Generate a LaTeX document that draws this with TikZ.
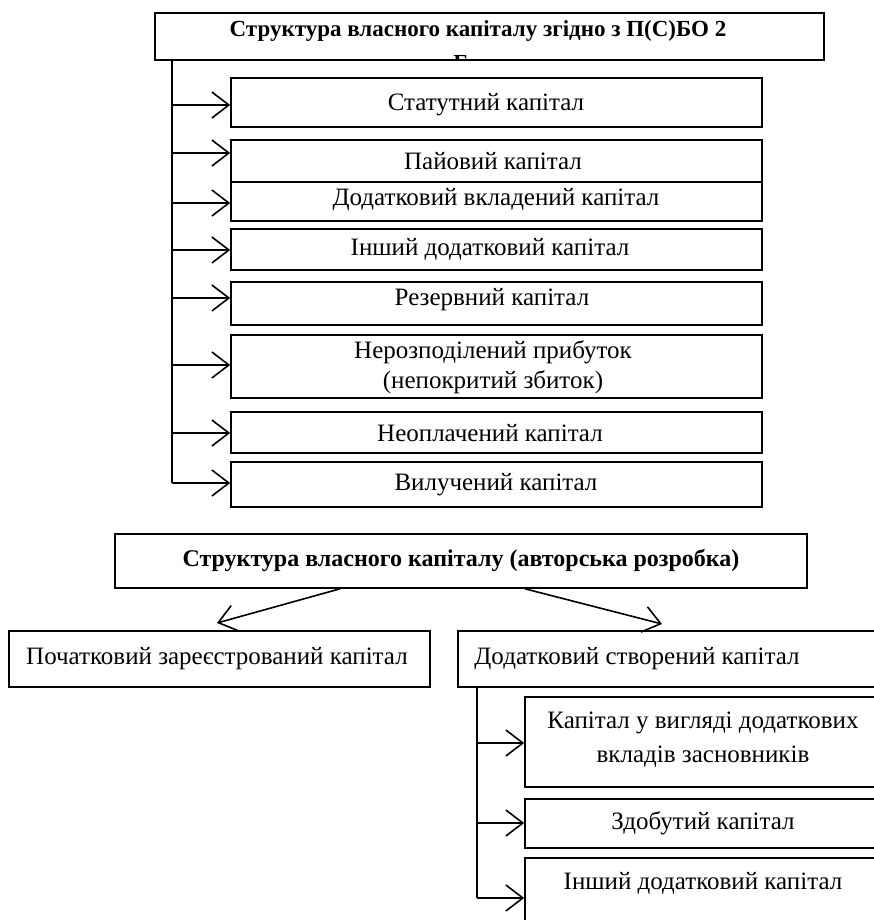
\documentclass[tikz,border=0pt]{standalone}
\usepackage{fontspec}
\setmainfont{Liberation Serif}
\usetikzlibrary{arrows.meta}
\begin{document}
\begin{tikzpicture}[x=1pt,y=-1pt,
  box/.style={draw,line width=1.6pt,inner sep=0pt,align=center},
  txt/.style={inner sep=0pt,align=center,font=\fontsize{25}{30}\selectfont},
  btxt/.style={inner sep=0pt,align=center,font=\fontsize{23}{26}\selectfont\bfseries},
  ln/.style={line width=1.6pt},
  arr/.style={line width=1.6pt,-{Straight Barb[length=17pt,width=26pt,line width=1.6pt]}}]
\clip (0,0) rectangle (874,920);
\fill[white] (0,0) rectangle (874,920);
% ---------- top part ----------
\node[box,minimum width=669pt,minimum height=47pt] (t1) at (489.5,36.5) {};
\node[btxt] (t1t) at (478,31) {Структура власного капіталу згідно з П(С)БО 2};
\begin{scope}
  \clip (155,13) rectangle (824,60);
  \node[btxt,anchor=base] (t1b) at (461,71) {Б};
\end{scope}
\node[box,minimum width=531pt,minimum height=49pt] (c1) at (496.5,102.5) {};
\node[box,minimum width=531pt,minimum height=42pt] (c2) at (496.5,161) {};
\node[box,minimum width=531pt,minimum height=39pt] (c3) at (496.5,201.5) {};
\node[box,minimum width=531pt,minimum height=41pt] (c4) at (496.5,249.5) {};
\node[box,minimum width=531pt,minimum height=43pt] (c5) at (496.5,303.5) {};
\node[box,minimum width=531pt,minimum height=63pt] (c6) at (496.5,366.5) {};
\node[box,minimum width=531pt,minimum height=41pt] (c7) at (496.5,432.5) {};
\node[box,minimum width=531pt,minimum height=45pt] (c8) at (496.5,484.5) {};
\node[txt] (c1t) at (486,105) {Статутний капітал};
\node[txt] (c2t) at (493,161) {Пайовий капітал};
\node[txt] (c3t) at (496,200) {Додатковий вкладений капітал};
\node[txt] (c4t) at (490,249) {Інший додатковий капітал};
\node[txt] (c5t) at (492,300) {Резервний капітал};
\node[txt] (c6t) at (493,367) {Нерозподілений прибуток\\(непокритий збиток)};
\node[txt] (c7t) at (490,433) {Неоплачений капітал};
\node[txt] (c8t) at (496,485) {Вилучений капітал};
\coordinate (v1) at (172,60);
\coordinate (v1e) at (172,483);
\draw[ln] (v1) -- (v1e);
\draw[arr] (v1 |- 0,105) -- (c1.west |- 0,105);
\draw[arr] (v1 |- 0,153) -- (c2.west |- 0,153);
\draw[arr] (v1 |- 0,203) -- (c3.west |- 0,203);
\draw[arr] (v1 |- 0,250) -- (c4.west |- 0,250);
\draw[arr] (v1 |- 0,298) -- (c5.west |- 0,298);
\draw[arr] (v1 |- 0,365) -- (c6.west |- 0,365);
\draw[arr] (v1 |- 0,433) -- (c7.west |- 0,433);
\draw[arr] (v1e) -- (c8.west |- v1e);
% ---------- bottom part ----------
\node[box,minimum width=692pt,minimum height=54pt] (a1) at (461,561) {};
\node[btxt,font=\fontsize{24}{26}\selectfont\bfseries] (a1t) at (461,560) {Структура власного капіталу (авторська розробка)};
\node[box,minimum width=421pt,minimum height=56pt] (p1) at (219.5,659) {};
\node[box,minimum width=440pt,minimum height=56pt] (p2) at (678,659) {};
\node[txt] (p1t) at (217,659) {Початковий зареєстрований капітал};
\node[txt] (p2t) at (637,659) {Додатковий створений капітал};
\coordinate (tipL) at (217,623);
\coordinate (tipR) at (662,624);
\draw[arr] (a1.south -| 340,0) -- (tipL);
\draw[arr] (a1.south -| 525,0) -- (tipR);
\node[box,minimum width=380pt,minimum height=90pt] (s1) at (715,742) {};
\node[box,minimum width=380pt,minimum height=49pt] (s2) at (715,823.5) {};
\node[box,minimum width=380pt,minimum height=80pt] (s3) at (715,898) {};
\node[txt,font=\fontsize{25}{34}\selectfont] (s1t) at (703,740) {Капітал у вигляді додаткових\\вкладів засновників};
\node[txt] (s2t) at (703,823) {Здобутий капітал};
\node[txt] (s3t) at (703,883) {Інший додатковий капітал};
\coordinate (v2) at (p2.south -| 477,0);
\coordinate (v2e) at (477,898);
\draw[ln] (v2) -- (v2e);
\draw[arr] (v2 |- 0,743) -- (s1.west |- 0,743);
\draw[arr] (v2 |- 0,823) -- (s2.west |- 0,823);
\draw[arr] (v2e) -- (s3.west |- v2e);
\end{tikzpicture}
\end{document}
